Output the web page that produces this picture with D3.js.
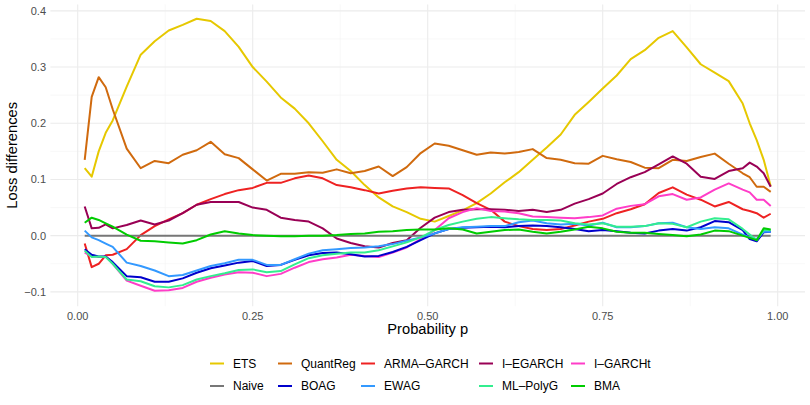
<!DOCTYPE html>
<html>
<head>
<meta charset="utf-8">
<script src="https://cdn.jsdelivr.net/npm/d3@7"></script>
<style>
  body { margin: 0; background: #fff; }
  svg { display: block; font-family: "Liberation Sans", Arial, sans-serif; }
</style>
</head>
<body>
<svg id="chart" width="810" height="405"></svg>
<script>
// probability grid (x values of every series)
const pGrid = [0.01, 0.02, 0.03, 0.04, 0.05, 0.07, 0.09, 0.11, 0.13, 0.15, 0.17, 0.19, 0.21, 0.23,
  0.25, 0.27, 0.29, 0.31, 0.33, 0.35, 0.37, 0.39, 0.41, 0.43, 0.45, 0.47, 0.49, 0.51, 0.53,
  0.55, 0.57, 0.59, 0.61, 0.63, 0.65, 0.67, 0.69, 0.71, 0.73, 0.75, 0.77, 0.79, 0.81, 0.83,
  0.85, 0.87, 0.89, 0.91, 0.93, 0.95, 0.96, 0.97, 0.98, 0.99];

// loss differences per model
const ets = [0.120, 0.105, 0.150, 0.183, 0.205, 0.265, 0.322, 0.346, 0.365, 0.375, 0.386, 0.382, 0.364, 0.336,
  0.300, 0.274, 0.246, 0.226, 0.200, 0.168, 0.135, 0.115, 0.090, 0.068, 0.052, 0.042, 0.030, 0.025, 0.035,
  0.045, 0.058, 0.075, 0.095, 0.113, 0.135, 0.157, 0.180, 0.215, 0.238, 0.262, 0.285, 0.314, 0.330, 0.352,
  0.364, 0.335, 0.305, 0.290, 0.275, 0.235, 0.200, 0.170, 0.135, 0.088];
const quantReg = [0.135, 0.247, 0.282, 0.264, 0.225, 0.155, 0.120, 0.133, 0.129, 0.144, 0.152, 0.167, 0.145, 0.138,
  0.118, 0.098, 0.110, 0.110, 0.113, 0.112, 0.118, 0.111, 0.115, 0.123, 0.106, 0.122, 0.147, 0.164, 0.160,
  0.152, 0.144, 0.148, 0.146, 0.149, 0.154, 0.138, 0.135, 0.129, 0.128, 0.142, 0.136, 0.131, 0.121, 0.120,
  0.135, 0.133, 0.140, 0.146, 0.128, 0.111, 0.104, 0.087, 0.087, 0.078];
const armaGarch = [-0.014, -0.056, -0.050, -0.035, -0.034, -0.024, 0.001, 0.017, 0.029, 0.040, 0.055, 0.065, 0.074, 0.081,
  0.085, 0.094, 0.094, 0.102, 0.107, 0.102, 0.090, 0.086, 0.081, 0.075, 0.080, 0.084, 0.086, 0.085, 0.084,
  0.072, 0.058, 0.046, 0.025, 0.017, 0.012, 0.010, 0.012, 0.018, 0.025, 0.030, 0.040, 0.047, 0.056, 0.076,
  0.086, 0.073, 0.064, 0.052, 0.060, 0.047, 0.044, 0.040, 0.032, 0.039];
const iEgarch = [0.052, 0.013, 0.014, 0.020, 0.013, 0.019, 0.027, 0.020, 0.027, 0.040, 0.055, 0.060, 0.060, 0.060,
  0.050, 0.046, 0.032, 0.028, 0.025, 0.013, -0.005, -0.013, -0.019, -0.021, -0.013, -0.008, 0.014, 0.032, 0.042,
  0.046, 0.047, 0.047, 0.046, 0.044, 0.046, 0.042, 0.046, 0.057, 0.065, 0.075, 0.092, 0.104, 0.113, 0.127,
  0.141, 0.128, 0.105, 0.101, 0.115, 0.120, 0.130, 0.123, 0.111, 0.087];
const iGarchT = [-0.030, -0.037, -0.038, -0.037, -0.050, -0.080, -0.089, -0.098, -0.097, -0.093, -0.082, -0.075, -0.069, -0.065,
  -0.066, -0.072, -0.068, -0.057, -0.047, -0.042, -0.039, -0.034, -0.036, -0.038, -0.030, -0.021, -0.006, 0.010, 0.031,
  0.042, 0.049, 0.044, 0.043, 0.040, 0.034, 0.033, 0.032, 0.031, 0.033, 0.036, 0.048, 0.053, 0.056, 0.070,
  0.074, 0.064, 0.068, 0.082, 0.093, 0.082, 0.077, 0.064, 0.064, 0.053];
const naive = [0, 0, 0, 0, 0, 0, 0, 0, 0, 0, 0, 0, 0, 0,
  0, 0, 0, 0, 0, 0, 0, 0, 0, 0, 0, 0, 0, 0, 0,
  0, 0, 0, 0, 0, 0, 0, 0, 0, 0, 0, 0, 0, 0, 0,
  0, 0, 0, 0, 0, 0, 0, 0, 0, 0];
const boag = [-0.024, -0.034, -0.037, -0.037, -0.047, -0.072, -0.074, -0.082, -0.082, -0.076, -0.066, -0.058, -0.053, -0.048,
  -0.045, -0.054, -0.052, -0.043, -0.035, -0.031, -0.030, -0.033, -0.037, -0.036, -0.029, -0.020, -0.008, 0.004, 0.012,
  0.014, 0.015, 0.016, 0.015, 0.017, 0.018, 0.017, 0.015, 0.012, 0.008, 0.010, 0.008, 0.005, 0.004, 0.009,
  0.012, 0.009, 0.015, 0.026, 0.024, 0.010, -0.006, -0.010, 0.006, 0.007];
const ewag = [0.009, -0.003, -0.008, -0.014, -0.020, -0.048, -0.054, -0.062, -0.072, -0.070, -0.062, -0.054, -0.049, -0.043,
  -0.043, -0.052, -0.052, -0.042, -0.032, -0.026, -0.024, -0.022, -0.021, -0.019, -0.015, -0.009, -0.003, 0.004, 0.012,
  0.015, 0.016, 0.017, 0.017, 0.024, 0.027, 0.022, 0.020, 0.021, 0.018, 0.023, 0.015, 0.015, 0.017, 0.022,
  0.023, 0.015, 0.012, 0.015, 0.013, 0.002, -0.003, -0.006, 0.007, 0.007];
const mlPolyG = [-0.027, -0.038, -0.037, -0.038, -0.050, -0.078, -0.081, -0.090, -0.092, -0.088, -0.078, -0.072, -0.067, -0.061,
  -0.060, -0.065, -0.063, -0.051, -0.040, -0.035, -0.032, -0.030, -0.030, -0.026, -0.019, -0.012, -0.003, 0.010, 0.019,
  0.025, 0.030, 0.033, 0.031, 0.029, 0.028, 0.028, 0.027, 0.022, 0.020, 0.022, 0.016, 0.016, 0.017, 0.022,
  0.021, 0.015, 0.025, 0.031, 0.029, 0.012, 0.002, -0.008, 0.010, 0.010];
const bma = [0.023, 0.032, 0.028, 0.022, 0.016, 0.002, -0.009, -0.010, -0.012, -0.014, -0.008, 0.002, 0.008, 0.004,
  0.001, 0.000, -0.001, -0.001, 0.000, 0.000, 0.001, 0.003, 0.004, 0.007, 0.008, 0.010, 0.011, 0.011, 0.013,
  0.011, 0.004, 0.007, 0.010, 0.011, 0.007, 0.004, 0.007, 0.011, 0.016, 0.013, 0.007, 0.005, 0.005, 0.003,
  0.001, -0.001, 0.002, 0.009, 0.008, 0.000, -0.004, -0.008, 0.013, 0.011];

const modelNames = ["ETS", "QuantReg", "ARMA\u2013GARCH", "I\u2013EGARCH", "I\u2013GARCHt",
  "Naive", "BOAG", "EWAG", "ML\u2013PolyG", "BMA"];
const modelValues = [ets, quantReg, armaGarch, iEgarch, iGarchT, naive, boag, ewag, mlPolyG, bma];
const modelColors = ["#E6C800", "#D06A0E", "#EE2222", "#990055", "#FF3DC8",
  "#777777", "#0000CC", "#3399FF", "#33EE8F", "#00CC00"];

const xTicks = [0, 0.25, 0.5, 0.75, 1];
const xTickLabels = ["0.00", "0.25", "0.50", "0.75", "1.00"];
const xMinor = [0.125, 0.375, 0.625, 0.875];
const yTicks = [-0.1, 0, 0.1, 0.2, 0.3, 0.4];
const yTickLabels = ["\u22120.1", "0.0", "0.1", "0.2", "0.3", "0.4"];
const yMinor = [-0.05, 0.05, 0.15, 0.25, 0.35];

const svg = d3.select("#chart");

// scales (ggplot style 5% expansion)
const x = d3.scaleLinear().domain([-0.039, 1.039]).range([50.4, 805]);
const y = d3.scaleLinear().domain([-0.1255, 0.4115]).range([306.2, 4.4]);
const [x0, x1] = x.range();
const [y0, y1] = y.range();

// grid
const grid = svg.append("g");
grid.selectAll(".xminor").data(xMinor).enter().append("line")
  .attr("x1", d => x(d)).attr("x2", d => x(d)).attr("y1", y0).attr("y2", y1)
  .attr("stroke", "#F3F3F3").attr("stroke-width", 0.6);
grid.selectAll(".yminor").data(yMinor).enter().append("line")
  .attr("x1", x0).attr("x2", x1).attr("y1", d => y(d)).attr("y2", d => y(d))
  .attr("stroke", "#F3F3F3").attr("stroke-width", 0.6);
grid.selectAll(".xmajor").data(xTicks).enter().append("line")
  .attr("x1", d => x(d)).attr("x2", d => x(d)).attr("y1", y0).attr("y2", y1)
  .attr("stroke", "#EBEBEB").attr("stroke-width", 1.1);
grid.selectAll(".ymajor").data(yTicks).enter().append("line")
  .attr("x1", x0).attr("x2", x1).attr("y1", d => y(d)).attr("y2", d => y(d))
  .attr("stroke", "#EBEBEB").attr("stroke-width", 1.1);

// tick labels
svg.selectAll(".xlab").data(xTicks).enter().append("text")
  .attr("x", d => x(d)).attr("y", 320)
  .attr("text-anchor", "middle").attr("font-size", 11).attr("fill", "#4D4D4D")
  .text((d, i) => xTickLabels[i]);
svg.selectAll(".ylab").data(yTicks).enter().append("text")
  .attr("x", 46).attr("y", d => y(d)).attr("dy", "0.36em")
  .attr("text-anchor", "end").attr("font-size", 11).attr("fill", "#4D4D4D")
  .text((d, i) => yTickLabels[i]);

// axis titles
svg.append("text").attr("x", (x0 + x1) / 2).attr("y", 334)
  .attr("text-anchor", "middle").attr("font-size", 14.7).attr("fill", "#000")
  .text("Probability p");
svg.append("text")
  .attr("transform", `translate(17,${(y0 + y1) / 2}) rotate(-90)`)
  .attr("text-anchor", "middle").attr("font-size", 14.7).attr("fill", "#000")
  .text("Loss differences");

// lines
const line = d3.line().x((d, i) => x(pGrid[i])).y(d => y(d));
svg.append("g").selectAll("path").data(modelValues).enter().append("path")
  .attr("d", d => line(d))
  .attr("fill", "none")
  .attr("stroke", (d, i) => modelColors[i])
  .attr("stroke-width", 2)
  .attr("stroke-linejoin", "round");

// legend: 2 rows x 5 columns
const legendCols = [209, 277, 360, 478, 570];
const legendRows = [363.5, 386];
const legend = svg.append("g");
const items = legend.selectAll("g").data(modelNames).enter().append("g")
  .attr("transform", (d, i) => `translate(${legendCols[i % 5]},${legendRows[Math.floor(i / 5)]})`);
items.append("line").attr("x1", 1).attr("x2", 15).attr("y1", 0).attr("y2", 0)
  .attr("stroke", (d, i) => modelColors[i]).attr("stroke-width", 2);
items.append("text").attr("x", 24).attr("dy", "0.36em")
  .attr("font-size", 12).attr("fill", "#000").text(d => d);
</script>
</body>
</html>
